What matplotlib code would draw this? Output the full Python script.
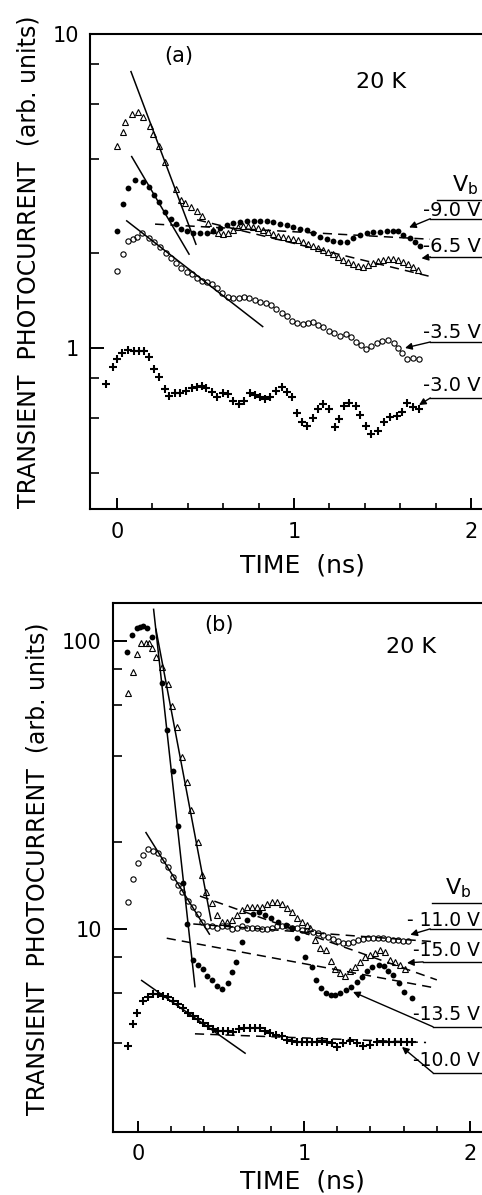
import matplotlib
matplotlib.use('Agg')
import matplotlib.pyplot as plt
from matplotlib.ticker import FixedLocator, NullFormatter, MultipleLocator, FixedFormatter

plt.rcParams['font.family'] = ['DejaVu Sans']

# ---------------- Panel (a) data ----------------
# -6.5 V (open triangles)
a_tri_t = [0.00, 0.034, 0.045, 0.085, 0.119, 0.147, 0.186, 0.203, 0.237, 0.271, 0.333, 0.362,
           0.384, 0.418, 0.452, 0.48, 0.514, 0.542, 0.571, 0.599, 0.627, 0.655, 0.684, 0.712,
           0.74, 0.768, 0.797, 0.825, 0.853, 0.881, 0.91, 0.938, 0.966, 0.994, 1.023, 1.051,
           1.079, 1.107, 1.136, 1.164, 1.192, 1.22, 1.249, 1.277, 1.305, 1.333, 1.362, 1.39,
           1.418, 1.446, 1.475, 1.503, 1.531, 1.559, 1.588, 1.616, 1.644, 1.672, 1.70]
a_tri_v = [4.40, 4.87, 5.25, 5.56, 5.65, 5.44, 5.09, 4.80, 4.40, 3.91, 3.21, 2.96,
           2.90, 2.81, 2.73, 2.63, 2.50, 2.38, 2.32, 2.31, 2.32, 2.38, 2.43, 2.45,
           2.45, 2.43, 2.41, 2.38, 2.34, 2.31, 2.27, 2.26, 2.24, 2.22, 2.21, 2.18,
           2.14, 2.11, 2.08, 2.05, 2.02, 1.99, 1.95, 1.91, 1.88, 1.85, 1.82, 1.81,
           1.84, 1.87, 1.89, 1.91, 1.92, 1.92, 1.91, 1.88, 1.85, 1.81, 1.77]
# -9.0 V (filled circles)
a_fil_t = [0.0, 0.034, 0.062, 0.102, 0.147, 0.181, 0.209, 0.237, 0.271, 0.305, 0.333, 0.362,
           0.395, 0.429, 0.469, 0.508, 0.542, 0.582, 0.621, 0.655, 0.695, 0.734, 0.774, 0.808,
           0.847, 0.881, 0.921, 0.96, 0.994, 1.034, 1.073, 1.107, 1.147, 1.186, 1.22, 1.26,
           1.30, 1.333, 1.373, 1.412, 1.446, 1.486, 1.525, 1.559, 1.588, 1.616, 1.655, 1.684, 1.712]
a_fil_v = [2.36, 2.87, 3.23, 3.43, 3.38, 3.26, 3.07, 2.92, 2.71, 2.58, 2.48, 2.39,
           2.36, 2.32, 2.32, 2.32, 2.36, 2.41, 2.46, 2.50, 2.52, 2.54, 2.54, 2.54,
           2.54, 2.52, 2.48, 2.46, 2.43, 2.39, 2.38, 2.32, 2.26, 2.22, 2.19, 2.17,
           2.17, 2.24, 2.29, 2.32, 2.34, 2.34, 2.36, 2.36, 2.36, 2.29, 2.24, 2.17, 2.11]
# -3.5 V (open circles)
a_opn_t = [0.0, 0.034, 0.062, 0.09, 0.113, 0.141, 0.181, 0.209, 0.243, 0.277, 0.305, 0.333,
           0.362, 0.395, 0.424, 0.452, 0.48, 0.508, 0.537, 0.565, 0.593, 0.627, 0.655, 0.689,
           0.718, 0.746, 0.78, 0.808, 0.842, 0.87, 0.898, 0.932, 0.96, 0.989, 1.017, 1.051,
           1.079, 1.107, 1.136, 1.164, 1.198, 1.226, 1.26, 1.294, 1.322, 1.35, 1.379, 1.407,
           1.435, 1.469, 1.497, 1.531, 1.565, 1.588, 1.61, 1.638, 1.672, 1.706]
a_opn_v = [1.76, 1.99, 2.19, 2.22, 2.26, 2.32, 2.24, 2.17, 2.10, 2.01, 1.94, 1.87,
           1.80, 1.75, 1.72, 1.67, 1.63, 1.62, 1.60, 1.55, 1.50, 1.45, 1.44, 1.44,
           1.45, 1.44, 1.42, 1.40, 1.39, 1.37, 1.33, 1.29, 1.26, 1.22, 1.20, 1.19,
           1.20, 1.21, 1.18, 1.17, 1.13, 1.12, 1.09, 1.11, 1.08, 1.045, 1.02, 0.993,
           1.015, 1.04, 1.05, 1.06, 1.04, 1.00, 0.964, 0.923, 0.929, 0.923]
# -3.0 V (crosses)
a_crs_t = [-0.062, -0.023, 0.0, 0.028, 0.062, 0.096, 0.124, 0.153, 0.181, 0.209, 0.237, 0.271,
           0.294, 0.328, 0.356, 0.39, 0.424, 0.452, 0.48, 0.503, 0.537, 0.565, 0.599, 0.627,
           0.655, 0.689, 0.718, 0.751, 0.78, 0.808, 0.836, 0.864, 0.898, 0.932, 0.96, 0.989,
           1.017, 1.045, 1.073, 1.107, 1.136, 1.164, 1.198, 1.232, 1.254, 1.282, 1.311, 1.35,
           1.373, 1.407, 1.435, 1.475, 1.508, 1.542, 1.582, 1.61, 1.638, 1.672, 1.706]
a_crs_v = [0.768, 0.870, 0.923, 0.964, 0.985, 0.978, 0.978, 0.978, 0.936, 0.857, 0.809, 0.740,
           0.703, 0.719, 0.719, 0.730, 0.746, 0.751, 0.757, 0.746, 0.724, 0.698, 0.719, 0.714,
           0.678, 0.663, 0.678, 0.719, 0.708, 0.698, 0.688, 0.698, 0.730, 0.751, 0.724, 0.698,
           0.621, 0.581, 0.565, 0.599, 0.640, 0.663, 0.640, 0.560, 0.594, 0.654, 0.668, 0.654,
           0.612, 0.565, 0.532, 0.544, 0.581, 0.603, 0.607, 0.626, 0.668, 0.649, 0.640]
# fit lines (a): solid and dashed, endpoints (t0, t1), (v0, v1)
a_solid_t = [(0.079, 0.446), (0.083, 0.407), (0.055, 0.823)]
a_solid_v = [(7.59, 2.14), (4.07, 1.99), (2.54, 1.17)]
a_dash_t = [(0.215, 1.768), (0.452, 1.768)]
a_dash_v = [(2.48, 2.22), (2.56, 1.69)]
a_labels = ['-9.0 V', '-6.5 V', '-3.5 V', '-3.0 V']

# ---------------- Panel (b) data ----------------
# -13.5 V (filled circles)
b_fil_t = [-0.066, -0.036, -0.006, 0.012, 0.030, 0.054, 0.084, 0.145, 0.175, 0.211, 0.241, 0.271,
           0.295, 0.331, 0.361, 0.392, 0.416, 0.446, 0.476, 0.506, 0.542, 0.566, 0.590, 0.627,
           0.657, 0.693, 0.729, 0.765, 0.801, 0.843, 0.892, 0.928, 0.958, 1.006, 1.048, 1.072,
           1.102, 1.133, 1.163, 1.187, 1.217, 1.253, 1.283, 1.319, 1.349, 1.380, 1.410, 1.452,
           1.482, 1.506, 1.536, 1.572, 1.602, 1.651]
b_fil_v = [91.6, 105, 111, 112, 113, 111, 103, 71.5, 49.1, 35.4, 22.8, 14.4,
           10.4, 7.80, 7.50, 7.26, 6.87, 6.65, 6.34, 6.19, 6.49, 7.09, 7.68, 9.01,
           10.7, 11.3, 11.4, 11.2, 10.9, 10.6, 10.3, 10.1, 9.3, 8.0, 7.38, 6.65,
           6.24, 6.0, 5.90, 5.90, 6.0, 6.14, 6.29, 6.55, 6.81, 7.15, 7.38, 7.50,
           7.46, 7.15, 6.92, 6.49, 6.04, 5.76]
# -15.0 V (open triangles)
b_tri_t = [-0.058, -0.030, -0.006, 0.018, 0.048, 0.066, 0.084, 0.108, 0.145, 0.181, 0.205, 0.235,
           0.265, 0.295, 0.319, 0.361, 0.386, 0.410, 0.446, 0.476, 0.506, 0.536, 0.566, 0.596,
           0.627, 0.657, 0.687, 0.717, 0.747, 0.777, 0.807, 0.837, 0.867, 0.898, 0.928, 0.958,
           0.988, 1.018, 1.036, 1.066, 1.096, 1.133, 1.163, 1.187, 1.217, 1.247, 1.277, 1.307,
           1.337, 1.367, 1.398, 1.428, 1.458, 1.488, 1.518, 1.548, 1.578, 1.608]
b_tri_v = [66.0, 78.0, 90.1, 98.4, 98.4, 98.4, 94.6, 88.0, 81.2, 70.9, 59.5, 50.3,
           39.5, 32.4, 25.9, 20.0, 15.4, 13.4, 12.3, 11.2, 10.6, 10.6, 10.7, 11.2,
           11.6, 11.9, 11.9, 11.9, 11.9, 12.2, 12.4, 12.4, 12.2, 11.8, 11.4, 10.9,
           10.6, 10.3, 10.1, 9.16, 8.59, 8.46, 7.74, 7.26, 7.03, 6.87, 7.15, 7.38,
           7.68, 8.0, 8.13, 8.26, 8.46, 8.33, 7.81, 7.68, 7.50, 7.26]
# -11.0 V (open circles)
b_opn_t = [-0.060, -0.030, 0.0, 0.030, 0.060, 0.090, 0.120, 0.151, 0.181, 0.211, 0.241, 0.265,
           0.301, 0.331, 0.361, 0.386, 0.416, 0.446, 0.476, 0.506, 0.536, 0.566, 0.596, 0.627,
           0.657, 0.687, 0.717, 0.747, 0.777, 0.807, 0.837, 0.867, 0.898, 0.928, 0.958, 0.988,
           1.018, 1.054, 1.084, 1.114, 1.145, 1.175, 1.205, 1.235, 1.265, 1.295, 1.325, 1.355,
           1.386, 1.416, 1.446, 1.476, 1.506, 1.536, 1.566, 1.596, 1.627]
b_opn_v = [12.4, 14.9, 16.9, 18.1, 19.0, 18.7, 18.4, 17.4, 16.4, 15.2, 14.2, 13.4,
           12.5, 11.9, 11.3, 10.6, 10.2, 10.2, 10.1, 10.2, 10.2, 10.0, 10.1, 10.2,
           10.1, 10.1, 10.1, 10.0, 10.0, 10.1, 10.2, 10.2, 10.2, 10.1, 10.1, 9.95,
           9.85, 9.77, 9.70, 9.54, 9.38, 9.23, 9.09, 8.94, 8.94, 9.01, 9.16, 9.23,
           9.30, 9.30, 9.30, 9.30, 9.23, 9.16, 9.16, 9.09, 9.09]
# -10.0 V (crosses)
b_crs_t = [-0.060, -0.030, -0.006, 0.030, 0.060, 0.090, 0.120, 0.151, 0.181, 0.211, 0.241, 0.271,
           0.301, 0.331, 0.361, 0.392, 0.422, 0.452, 0.482, 0.512, 0.542, 0.572, 0.608, 0.639,
           0.675, 0.705, 0.735, 0.765, 0.795, 0.831, 0.867, 0.898, 0.928, 0.958, 0.988, 1.018,
           1.048, 1.078, 1.108, 1.140, 1.170, 1.199, 1.235, 1.277, 1.319, 1.355, 1.398, 1.440,
           1.476, 1.512, 1.548, 1.584, 1.620, 1.651]
b_crs_v = [3.92, 4.68, 5.11, 5.62, 5.81, 5.95, 5.95, 5.86, 5.81, 5.62, 5.49, 5.32,
           5.11, 4.99, 4.87, 4.72, 4.61, 4.50, 4.42, 4.42, 4.42, 4.39, 4.50, 4.53,
           4.53, 4.53, 4.53, 4.42, 4.35, 4.28, 4.25, 4.12, 4.08, 4.05, 4.05, 4.05,
           4.05, 4.05, 4.08, 4.05, 4.02, 3.89, 4.02, 4.08, 4.02, 3.92, 3.95, 4.05,
           4.05, 4.05, 4.05, 4.05, 4.05, 4.05]
b_solid_t = [(0.094, 0.343), (0.108, 0.440), (0.048, 0.430), (0.022, 0.645)]
b_solid_v = [(128.8, 6.3), (109.8, 10.7), (21.6, 9.59), (6.62, 3.70)]
b_dash_t = [(0.333, 1.80), (0.373, 1.80), (0.173, 1.80), (0.343, 1.735)]
b_dash_v = [(10.4, 9.01), (13.0, 6.65), (9.28, 6.22), (4.32, 4.03)]
b_labels = ['- 11.0 V', '-15.0 V', '-13.5 V', '-10.0 V']

W, H = 482, 1195
fig = plt.figure(figsize=(W / 100, H / 100), dpi=100)


def px_axes(left, top, bottom):
    return fig.add_axes([left / W, 1 - bottom / H, 1 - left / W, (bottom - top) / H])


def style(ax, xlim, ylim, majors, minors):
    ax.set_yscale('log')
    ax.set_xlim(*xlim)
    ax.set_ylim(*ylim)
    ax.spines['right'].set_visible(False)
    for s in ['left', 'bottom', 'top']:
        ax.spines[s].set_linewidth(1.5)
    ax.xaxis.set_major_locator(FixedLocator([0, 1, 2]))
    ax.xaxis.set_major_formatter(FixedFormatter(['0', '1', '2']))
    ax.xaxis.set_minor_locator(MultipleLocator(0.2))
    ax.yaxis.set_major_locator(FixedLocator(majors))
    ax.yaxis.set_major_formatter(FixedFormatter([str(m) for m in majors]))
    ax.yaxis.set_minor_locator(FixedLocator(minors))
    ax.yaxis.set_minor_formatter(NullFormatter())
    ax.tick_params(axis='x', which='major', direction='in', length=8, width=1.4,
                   labelsize=15, pad=9, top=False)
    ax.tick_params(axis='x', which='minor', direction='in', length=4.5, width=1.2, top=False)
    ax.tick_params(axis='y', which='major', direction='in', length=10, width=1.4,
                   labelsize=15, pad=8, right=False)
    ax.tick_params(axis='y', which='minor', direction='in', length=6.5, width=1.2, right=False)


def label(ax, txt, tleft, vtext, tknee, vline, ttip, vtip, fs):
    ax.text(tleft, vtext, txt, ha='left', va='center', fontsize=fs, clip_on=False)
    ax.plot([tknee, 2.4], [vline, vline], color='k', lw=1.0, clip_on=False)
    ax.annotate('', xy=(ttip, vtip), xytext=(tknee, vline),
                arrowprops=dict(arrowstyle='-|>', color='k', lw=1.0, mutation_scale=10,
                                shrinkA=0, shrinkB=0), annotation_clip=False)


mk = dict(linestyle='none', color='k', zorder=3)

# ---------------- Panel (a) ----------------
axa = px_axes(90, 34, 509)
style(axa, (-0.1525, 2.062), (0.307, 10), [1, 10], [0.4, 0.6, 0.8, 2, 4, 6, 8])
axa.plot(a_tri_t, a_tri_v, marker='^', ms=4.8, mfc='none', mew=0.8, **mk)
axa.plot(a_fil_t, a_fil_v, marker='o', ms=4.2, mfc='k', mew=0, **mk)
axa.plot(a_opn_t, a_opn_v, marker='o', ms=3.8, mfc='none', mew=0.8, **mk)
axa.plot(a_crs_t, a_crs_v, marker='+', ms=5.5, mew=1.5, **mk)
for tt, vv in zip(a_solid_t, a_solid_v):
    axa.plot(tt, vv, color='k', lw=1.1, zorder=2)
for tt, vv in zip(a_dash_t, a_dash_v):
    axa.plot(tt, vv, color='k', lw=1.1, ls=(0, (6, 4)), zorder=2)
axa.text(0.35, 8.51, '(a)', ha='center', va='center', fontsize=15)
axa.text(1.49, 7.03, '20 K', ha='center', va='center', fontsize=16)
axa.text(1.966, 3.3, r'$\mathregular{V_b}$', ha='center', va='center', fontsize=16, clip_on=False)
axa.plot([1.81, 2.4], [2.96, 2.96], color='k', lw=1.0, clip_on=False)
fa = 14
label(axa, a_labels[0], 1.727, 2.75, 1.77, 2.58, 1.65, 2.42, fa)
label(axa, a_labels[1], 1.727, 2.10, 1.77, 1.95, 1.72, 1.93, fa)
label(axa, a_labels[2], 1.727, 1.12, 1.77, 1.045, 1.627, 1.0, fa)
label(axa, a_labels[3], 1.727, 0.757, 1.77, 0.693, 1.706, 0.658, fa)

# ---------------- Panel (b) ----------------
axb = px_axes(113, 603, 1132)
style(axb, (-0.1506, 2.072), (1.97, 135.5), [10, 100], [4, 6, 8, 20, 40, 60, 80])
axb.plot(b_fil_t, b_fil_v, marker='o', ms=4.2, mfc='k', mew=0, **mk)
axb.plot(b_tri_t, b_tri_v, marker='^', ms=4.8, mfc='none', mew=0.8, **mk)
axb.plot(b_opn_t, b_opn_v, marker='o', ms=3.8, mfc='none', mew=0.8, **mk)
axb.plot(b_crs_t, b_crs_v, marker='+', ms=5.5, mew=1.5, **mk)
for tt, vv in zip(b_solid_t, b_solid_v):
    axb.plot(tt, vv, color='k', lw=1.1, zorder=2)
for tt, vv in zip(b_dash_t, b_dash_v):
    axb.plot(tt, vv, color='k', lw=1.1, ls=(0, (6, 4)), zorder=2)
axb.text(0.488, 113.7, '(b)', ha='center', va='center', fontsize=15)
axb.text(1.645, 95.3, '20 K', ha='center', va='center', fontsize=16)
axb.text(1.93, 13.9, r'$\mathregular{V_b}$', ha='center', va='center', fontsize=16, clip_on=False)
axb.plot([1.77, 2.4], [12.3, 12.3], color='k', lw=1.0, clip_on=False)
fb = 13.5
label(axb, b_labels[0], 1.622, 10.7, 1.76, 10.0, 1.64, 9.54, fb)
label(axb, b_labels[1], 1.658, 8.39, 1.717, 7.68, 1.62, 7.62, fb)
label(axb, b_labels[2], 1.658, 5.03, 1.777, 4.57, 1.295, 6.04, fb)
label(axb, b_labels[3], 1.658, 3.48, 1.777, 3.16, 1.59, 3.89, fb)

# axis titles
ylab = 'TRANSIENT  PHOTOCURRENT  (arb. units)'
fig.text(29 / W, 1 - 262 / H, ylab, rotation=90, ha='center', va='center', fontsize=17)
fig.text(38 / W, 1 - 869 / H, ylab, rotation=90, ha='center', va='center', fontsize=17)
fig.text(302 / W, 1 - 565 / H, 'TIME  (ns)', ha='center', va='center', fontsize=18)
fig.text(302 / W, 1 - 1182 / H, 'TIME  (ns)', ha='center', va='center', fontsize=18)

fig.savefig('out.png', dpi=100)
